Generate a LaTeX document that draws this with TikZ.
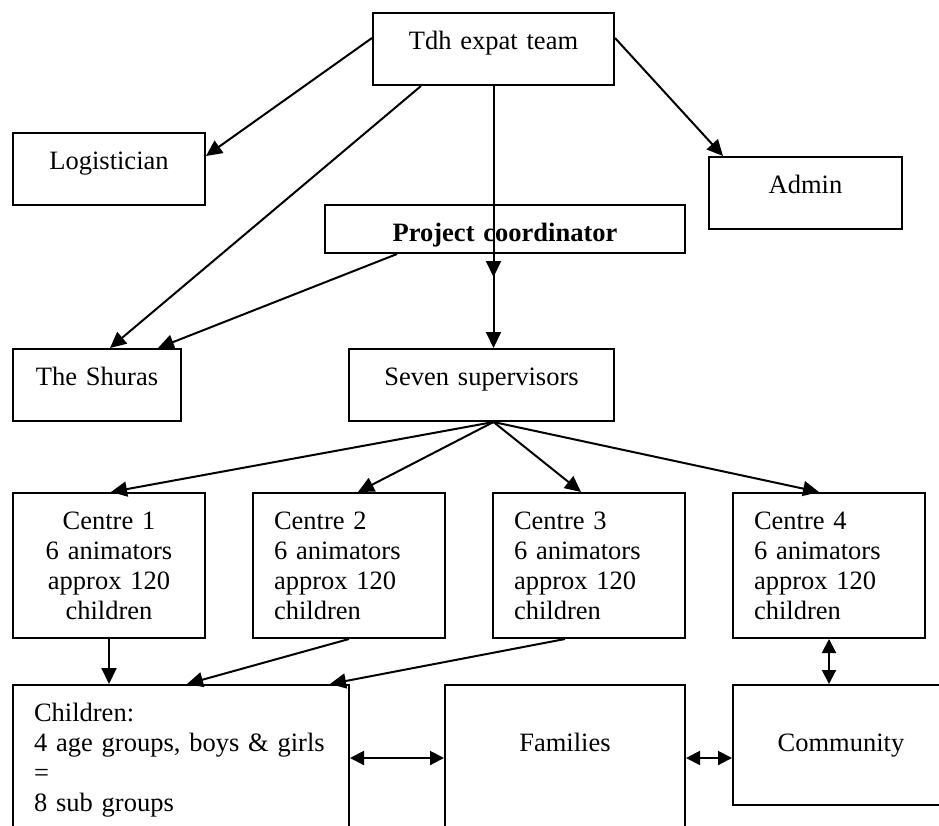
\documentclass[tikz,border=0pt]{standalone}
\usepackage{fontspec}
\setmainfont{Liberation Serif}
\usetikzlibrary{arrows.meta}

\tikzstyle{orgbox} = [
    draw=black,
    line width=2pt,
    rectangle,
    anchor=north west,
    inner xsep=21pt,
    inner ysep=0pt,
    text height=36pt,
    align=center
    ]
\tikzstyle{link} = [
    line width=2pt,
    -{Triangle[length=16pt,width=15pt]}
    ]
\tikzstyle{twoway} = [
    line width=2pt,
    {Triangle[length=14pt,width=14pt]}-{Triangle[length=14pt,width=14pt]}
    ]

\begin{document}
\begin{tikzpicture}[x=1pt, y=-1pt, font=\fontsize{26.5}{30}\selectfont]
\useasboundingbox (0,0) rectangle (939,825);
\fill[white] (0,0) rectangle (939,825);
\clip (0,0) rectangle (939,825);

% management
\node [orgbox, text width=199pt, text depth=36pt] (tdh) at (372,12) {Tdh expat team};
\node [orgbox, text width=150pt, text depth=36pt] (logist) at (12,132) {Logistician};
\node [orgbox, text width=151pt, text depth=36pt] (admin) at (708,156) {Admin};
\node [orgbox, text width=318pt, text depth=12pt] (coord) at (324,204) {\textbf{Project coordinator}};
\node [orgbox, text width=126pt, text depth=36pt] (shuras) at (12,348) {The Shuras};
\node [orgbox, text width=223pt, text depth=36pt] (seven) at (348,348) {Seven supervisors};

% centres
\node [orgbox, text width=150pt, text depth=109pt] (c1) at (12,492)
    {Centre 1\\6 animators\\approx 120\\children};
\node [orgbox, text width=150pt, text depth=109pt, align=left] (c2) at (252,492)
    {Centre 2\\6 animators\\approx 120\\children};
\node [orgbox, text width=150pt, text depth=109pt, align=left] (c3) at (492,492)
    {Centre 3\\6 animators\\approx 120\\children};
\node [orgbox, text width=150pt, text depth=109pt, align=left] (c4) at (732,492)
    {Centre 4\\6 animators\\approx 120\\children};

% beneficiaries
\node [orgbox, text width=294pt, text depth=110pt, align=left] (kids) at (12,684)
    {Children:\\4 age groups, boys \& girls\\=\\8 sub groups};
\node [orgbox, text width=198pt, text height=66pt, text depth=80pt] (fam) at (444,684) {Families};
\node [orgbox, text width=174pt, text height=66pt, text depth=54pt] (comm) at (732,684) {Community};

% lines
\draw [link] ([yshift=11pt]tdh.west) -- ([yshift=13pt]logist.east);
\draw [link] ([xshift=49pt]tdh.south west) -- ([xshift=98pt]shuras.north west);
\draw [link] ([yshift=11pt]tdh.east) -- ([xshift=15pt]admin.north west);
\coordinate (drop) at ([yshift=-23pt]coord.south -| tdh.south);
\draw [link] (tdh.south) -- (drop);
\draw [link] (coord.south -| tdh.south) -- (seven.north -| tdh.south);
\draw [link] ([xshift=73pt]coord.south west) -- ([xshift=146pt]shuras.north west);

\coordinate (fan) at (seven.south -| tdh.south);
\draw [link] (fan) -- ([xshift=2pt]c1.north);
\draw [link] (fan) -- ([xshift=9pt]c2.north);
\draw [link] (fan) -- ([xshift=-8pt]c3.north);
\draw [link] (fan) -- ([xshift=-10pt]c4.north);

\draw [link] (c1.south) -- (c1.south |- kids.north);
\draw [link] (c2.south) -- ([xshift=175pt]kids.north west);
\draw [link] ([xshift=-24pt]c3.south) -- ([xshift=318pt]kids.north west);
\draw [twoway] (c4.south) -- (c4.south |- comm.north);
\draw [twoway] (kids.east) -- (kids.east -| fam.west);
\draw [twoway] (fam.east) -- (fam.east -| comm.west);
\end{tikzpicture}
\end{document}
